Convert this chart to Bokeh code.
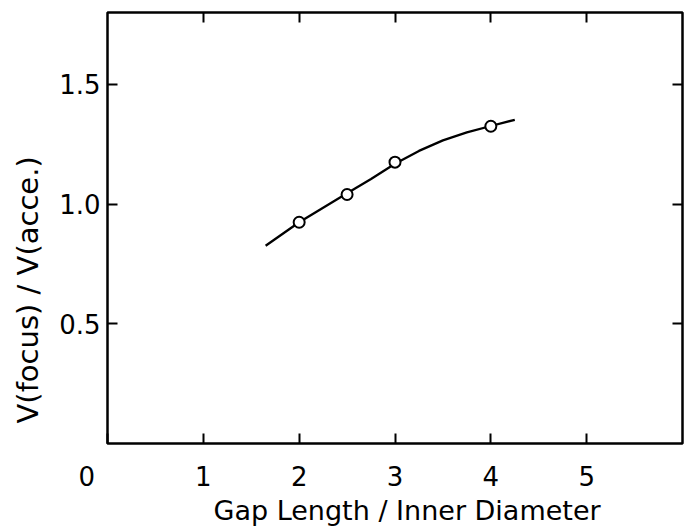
from bokeh.plotting import figure
from bokeh.models import Range1d, LinearAxis, FixedTicker, Title
from bokeh.embed import file_html
from bokeh.resources import INLINE

# measured points
gap_ratio = [2.0, 2.5, 3.0, 4.0]
v_ratio = [0.924, 1.04, 1.175, 1.325]

# hand-drawn fitted curve
curve_x = [1.65, 2.0, 2.25, 2.5, 2.75, 3.0, 3.25, 3.5, 3.75, 4.0, 4.25]
curve_y = [0.826, 0.924, 0.985, 1.045, 1.105, 1.168, 1.222, 1.266, 1.299, 1.326, 1.352]

x_ticks = [0, 1, 2, 3, 4, 5]
x_tick_labels = ["0\u00a0\u00a0\u00a0\u00a0\u00a0", "1", "2", "3", "4", "5"]
y_ticks = [0.5, 1.0, 1.5]
y_tick_labels = ["0.5", "1.0", "1.5"]
frame_x_ticks = [1, 2, 3, 4, 5]

x_title = "Gap Length / Inner Diameter"
y_title = "V(focus) / V(acce.)"

FONT = "DejaVu Sans"
FS = "26px"

p = figure(width=690, height=527, output_backend="svg", toolbar_location=None,
           x_range=Range1d(0, 6.0), y_range=Range1d(0, 1.8),
           min_border_left=105, min_border_right=8, min_border_top=12,
           min_border_bottom=82, x_axis_type=None, y_axis_type=None)
p.background_fill_color = "white"
p.border_fill_color = "white"
p.outline_line_color = "black"
p.outline_line_width = 2.5
p.xgrid.visible = False
p.ygrid.visible = False


def style(ax, show_labels, standoff):
    ax.axis_line_color = None
    ax.major_tick_in = 10
    ax.major_tick_out = 0
    ax.minor_tick_line_color = None
    ax.major_tick_line_width = 2
    ax.major_tick_line_color = "black"
    ax.major_label_text_font = FONT
    ax.major_label_text_color = "black"
    ax.major_label_standoff = standoff
    ax.major_label_text_font_size = FS if show_labels else "0px"


xb = LinearAxis(ticker=FixedTicker(ticks=x_ticks),
                major_label_overrides={t: l for t, l in zip(x_ticks, x_tick_labels)})
style(xb, True, 18)
p.add_layout(xb, "below")

xt = LinearAxis(ticker=FixedTicker(ticks=frame_x_ticks),
                major_label_overrides={t: "" for t in frame_x_ticks})
style(xt, False, 0)
p.add_layout(xt, "above")

yl = LinearAxis(ticker=FixedTicker(ticks=y_ticks),
                major_label_overrides={t: l for t, l in zip(y_ticks, y_tick_labels)})
style(yl, True, 7)
p.add_layout(yl, "left")

yr = LinearAxis(ticker=FixedTicker(ticks=y_ticks),
                major_label_overrides={t: "" for t in y_ticks})
style(yr, False, 0)
p.add_layout(yr, "right")

p.line(curve_x, curve_y, line_color="black", line_width=2.3)
p.scatter(gap_ratio, v_ratio, marker="circle", size=11, fill_color="white",
          line_color="black", line_width=2)

p.add_layout(Title(text=x_title, text_font=FONT, text_font_size="27px",
                   text_font_style="normal", text_color="black",
                   text_line_height=0.9,
                   align="left", offset=106, vertical_align="top", standoff=0),
             "below")
p.add_layout(Title(text=y_title, text_font=FONT, text_font_size="29px",
                   text_font_style="normal", text_color="black",
                   align="left", offset=20, vertical_align="top", standoff=20),
             "left")

open("out.html", "w").write(file_html(p, INLINE))
